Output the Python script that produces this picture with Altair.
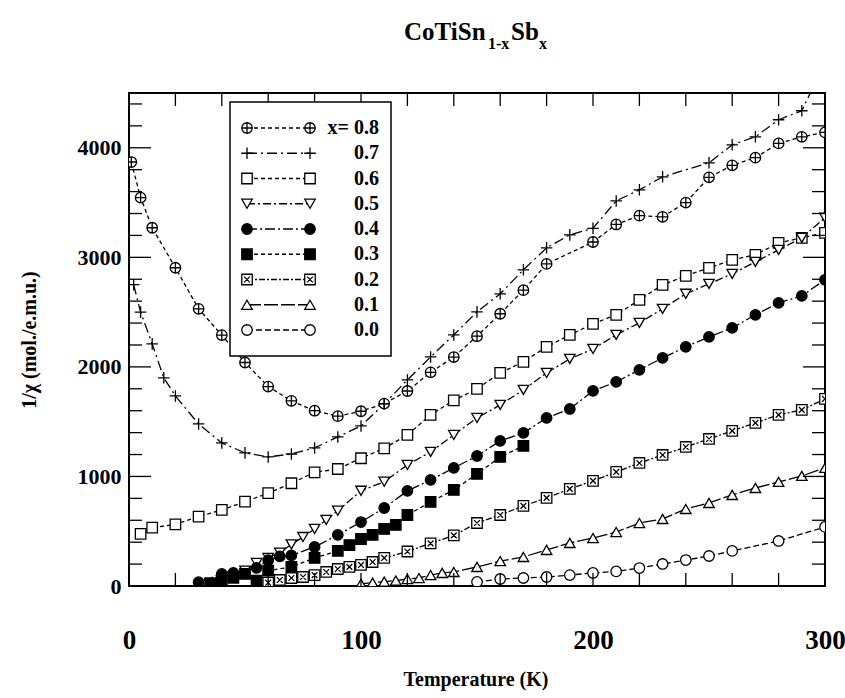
import altair as alt
import pandas as pd

# ---- data ----
series_order = ["0.8", "0.7", "0.6", "0.5", "0.4", "0.3", "0.2", "0.1", "0.0"]
legend_text = ["x= 0.8", "0.7", "0.6", "0.5", "0.4", "0.3", "0.2", "0.1", "0.0"]

T_08 = [1, 5, 10, 20, 30, 40, 50, 60, 70, 80, 90, 100, 110, 120, 130, 140, 150, 160, 170, 180,
        200, 210, 220, 230, 240, 250, 260, 270, 280, 290, 300]
V_08 = [3870, 3545, 3270, 2905, 2530, 2290, 2040, 1820, 1690, 1600, 1550, 1595, 1665, 1780, 1950,
        2090, 2280, 2485, 2700, 2940, 3140, 3300, 3380, 3370, 3500, 3730, 3840, 3910, 4040, 4100, 4140]

T_07 = [2, 5, 10, 15, 20, 30, 40, 50, 60, 70, 80, 90, 100, 110, 120, 130, 140, 150, 160, 170, 180,
        190, 200, 210, 220, 230, 250, 260, 270, 280, 290, 300]
V_07 = [2750, 2500, 2210, 1900, 1735, 1479, 1306, 1215, 1178, 1205, 1260, 1361, 1461, 1662, 1881,
        2091, 2292, 2502, 2667, 2886, 3087, 3205, 3265, 3515, 3616, 3735, 3863, 4027, 4100, 4256,
        4338, 4780]

T_06 = [5, 10, 20, 30, 40, 50, 60, 70, 80, 90, 100, 110, 120, 130, 140, 150, 160, 170, 180, 190,
        200, 210, 220, 230, 240, 250, 260, 270, 280, 290, 300]
V_06 = [475, 532, 563, 633, 694, 770, 847, 938, 1038, 1068, 1166, 1257, 1379, 1562, 1695, 1799,
        1945, 2046, 2183, 2292, 2393, 2475, 2612, 2749, 2831, 2904, 2977, 3023, 3132, 3178, 3224]

T_05 = [35, 40, 45, 50, 55, 60, 65, 70, 75, 80, 85, 90, 100, 110, 120, 130, 140, 150, 160, 170,
        180, 190, 200, 210, 220, 230, 240, 250, 260, 270, 280, 290, 300]
V_05 = [20, 50, 90, 140, 210, 256, 305, 380, 447, 521, 603, 687, 869, 952, 1105, 1224, 1379, 1534,
        1653, 1790, 1945, 2073, 2164, 2292, 2402, 2530, 2667, 2758, 2849, 2959, 3068, 3178, 3361]

T_04 = [30, 40, 45, 55, 60, 65, 70, 80, 90, 100, 110, 120, 130, 140, 150, 160, 170, 180, 190, 200,
        210, 220, 230, 240, 250, 260, 270, 280, 290, 300]
V_04 = [35, 110, 120, 165, 235, 270, 280, 356, 466, 584, 712, 868, 968, 1078, 1187, 1324, 1397,
        1534, 1616, 1781, 1863, 1973, 2082, 2183, 2274, 2356, 2475, 2584, 2648, 2795]

T_03 = [35, 40, 45, 50, 55, 60, 70, 80, 90, 95, 100, 105, 110, 115, 120, 130, 140, 150, 160, 170]
V_03 = [25, 45, 75, 110, 50, 140, 174, 256, 320, 374, 429, 466, 521, 557, 648, 767, 877, 1023,
        1178, 1279]

T_02 = [60, 65, 70, 75, 80, 85, 90, 95, 100, 105, 110, 120, 130, 140, 150, 160, 170, 180, 190, 200,
        210, 220, 230, 240, 250, 260, 270, 280, 290, 300]
V_02 = [30, 55, 73, 82, 100, 128, 155, 174, 192, 219, 256, 315, 389, 462, 575, 648, 731, 804, 886,
        959, 1041, 1123, 1196, 1269, 1342, 1416, 1489, 1562, 1607, 1708]

T_01 = [100, 105, 110, 115, 120, 125, 130, 135, 140, 150, 160, 170, 180, 190, 200, 210, 220, 230,
        240, 250, 260, 270, 280, 290, 300]
V_01 = [20, 30, 40, 50, 64, 73, 100, 119, 128, 174, 228, 265, 329, 393, 438, 493, 575, 612, 703,
        758, 831, 895, 950, 1005, 1078]

T_00 = [150, 160, 170, 180, 190, 200, 210, 220, 230, 240, 250, 260, 280, 300]
V_00 = [37, 64, 73, 82, 100, 119, 133, 164, 201, 237, 274, 320, 411, 539]

x_tick_values = list(range(0, 301, 20))
x_label_values = [0, 100, 200, 300]
y_major_values = [0, 1000, 2000, 3000, 4000]
y_minor_values = [v for v in range(0, 4500, 200) if v % 1000 != 0]

# ---- style tables ----
shape_range = [
    "M1,0A1,1,0,1,1,-1,0A1,1,0,1,1,1,0ZM-1,0L1,0M0,-1L0,1",   # circled plus
    "M-1.1,0L1.1,0M0,-1.1L0,1.1",                              # plus
    "square",
    "triangle-down",
    "circle",
    "square",
    "M-1,-1L1,-1L1,1L-1,1ZM-0.55,-0.55L0.55,0.55M-0.55,0.55L0.55,-0.55",
    "triangle-up",
    "circle",
]
fill_range = ["white", "white", "white", "white", "black", "black", "white", "white", "white"]
dash_range = [[4, 3], [10, 4, 2, 4], [4, 3], [8, 3, 2, 3], [10, 3, 2, 3], [4, 3],
              [6, 2, 2, 2], [14, 3], [6, 3]]

series = {
    "0.8": (T_08, V_08), "0.7": (T_07, V_07), "0.6": (T_06, V_06), "0.5": (T_05, V_05),
    "0.4": (T_04, V_04), "0.3": (T_03, V_03), "0.2": (T_02, V_02), "0.1": (T_01, V_01),
    "0.0": (T_00, V_00),
}
rows = []
for k, (ts, vs) in series.items():
    for t, v in zip(ts, vs):
        rows.append({"x": k, "T": t, "V": v})
df = pd.DataFrame(rows)

W, H = 696, 493
FONT = "Liberation Serif"

xs = alt.Scale(domain=[0, 300], nice=False, zero=False)
ys = alt.Scale(domain=[0, 4500], nice=False, zero=False)

dash_scale = alt.Scale(domain=series_order, range=dash_range)
shape_scale = alt.Scale(domain=series_order, range=shape_range)
fill_scale = alt.Scale(domain=series_order, range=fill_range)

xaxis = alt.Axis(values=x_label_values, title=None, grid=False, ticks=False, tickSize=0,
                 domain=False, labelFont=FONT, labelFontWeight="bold", labelFontSize=27,
                 labelColor="black", labelPadding=54, labelBaseline="middle",
                 labelFlush=False, labelOverlap=False, format="d")
yaxis = alt.Axis(values=y_major_values, title=None, grid=False, ticks=False, tickSize=0,
                 domain=False, labelFont=FONT, labelFontWeight="bold", labelFontSize=22,
                 labelColor="black", labelPadding=8, labelBaseline="middle",
                 labelFlush=False, labelOverlap=False, format="d")

X = lambda: alt.X("T:Q", scale=xs, axis=xaxis)
Y = lambda: alt.Y("V:Q", scale=ys, axis=yaxis)

base = alt.Chart(df)
lines = base.mark_line(clip=True, strokeWidth=1.3, color="black").encode(
    x=X(), y=Y(),
    detail="x:N",
    strokeDash=alt.StrokeDash("x:N", scale=dash_scale, legend=None),
)
points = base.mark_point(clip=True, strokeWidth=1.3, size=110, opacity=1, fillOpacity=1,
                         stroke="black").encode(
    x=X(), y=Y(),
    shape=alt.Shape("x:N", scale=shape_scale, legend=None),
    fill=alt.Fill("x:N", scale=fill_scale, legend=None),
)

dfx = pd.DataFrame({"T": x_tick_values})
tick_bottom = alt.Chart(dfx).mark_rule(color="black", strokeWidth=1.3).encode(
    x=X(), y=alt.value(H), y2=alt.value(H - 13))
tick_top = alt.Chart(dfx).mark_rule(color="black", strokeWidth=1.3).encode(
    x=X(), y=alt.value(0), y2=alt.value(13))

dfmaj = pd.DataFrame({"V": y_major_values})
dfmin = pd.DataFrame({"V": y_minor_values})
def ytick(d, x0, x1):
    return alt.Chart(d).mark_rule(color="black", strokeWidth=1.3).encode(
        y=Y(), x=alt.value(x0), x2=alt.value(x1))
yt = [ytick(dfmaj, 0, 22), ytick(dfmin, 0, 13), ytick(dfmaj, W, W - 22), ytick(dfmin, W, W - 13)]

main = alt.layer(lines, points, tick_bottom, tick_top, *yt)

# ---- legend ----
dleg = pd.DataFrame({"x": series_order, "label": legend_text})
ly = alt.Y("x:N", scale=alt.Scale(type="point", domain=series_order, range=[35, 237], padding=0),
           axis=None)
box = alt.Chart(pd.DataFrame({"a": [0]})).mark_rect(fill="white", stroke="black",
                                                     strokeWidth=1.5).encode(
    x=alt.value(101), x2=alt.value(262), y=alt.value(9), y2=alt.value(263))
leg_lines = alt.Chart(dleg).mark_rule(color="black", strokeWidth=1.3).encode(
    y=ly, x=alt.value(118), x2=alt.value(181),
    strokeDash=alt.StrokeDash("x:N", scale=dash_scale, legend=None))
def leg_sym(xp):
    return alt.Chart(dleg).mark_point(strokeWidth=1.3, size=110, opacity=1, fillOpacity=1,
                                      stroke="black").encode(
        y=ly, x=alt.value(xp),
        shape=alt.Shape("x:N", scale=shape_scale, legend=None),
        fill=alt.Fill("x:N", scale=fill_scale, legend=None))
leg_txt = alt.Chart(dleg).mark_text(align="right", baseline="middle", font=FONT,
                                    fontWeight="bold", fontSize=20, color="black").encode(
    y=ly, x=alt.value(250), text="label:N")

# ---- titles ----
def txt(s, xp, yp, size, align="left", baseline="alphabetic", angle=0):
    kw = dict(align=align, baseline=baseline, font=FONT, fontWeight="bold", fontSize=size,
              color="black")
    if angle:
        kw["angle"] = angle
    return alt.Chart(pd.DataFrame({"t": [s]})).mark_text(**kw).encode(
        text="t:N", x=alt.value(xp), y=alt.value(yp))

titles = [
    txt("CoTiSn", 275, -53, 25),
    txt("1-x", 359, -44, 16),
    txt("Sb", 382, -53, 25),
    txt("x", 410, -44, 16),
    txt("1/χ (mol./e.m.u.)", -99, 247, 20, align="center", baseline="middle", angle=270),
    txt("Temperature (K)", 347, 587, 20, align="center", baseline="middle"),
]

overlay = alt.layer(box, leg_lines, leg_sym(118), leg_sym(181), leg_txt, *titles)

chart = alt.layer(main, overlay).resolve_scale(y="independent", x="independent").properties(
    width=W, height=H,
    autosize=alt.AutoSizeParams(type="none"),
    padding={"left": 129, "top": 93, "right": 20, "bottom": 112},
    background="white",
).configure_view(stroke="black", strokeWidth=2)

chart.save("out.html", embed_options={"renderer": "svg", "actions": False})
